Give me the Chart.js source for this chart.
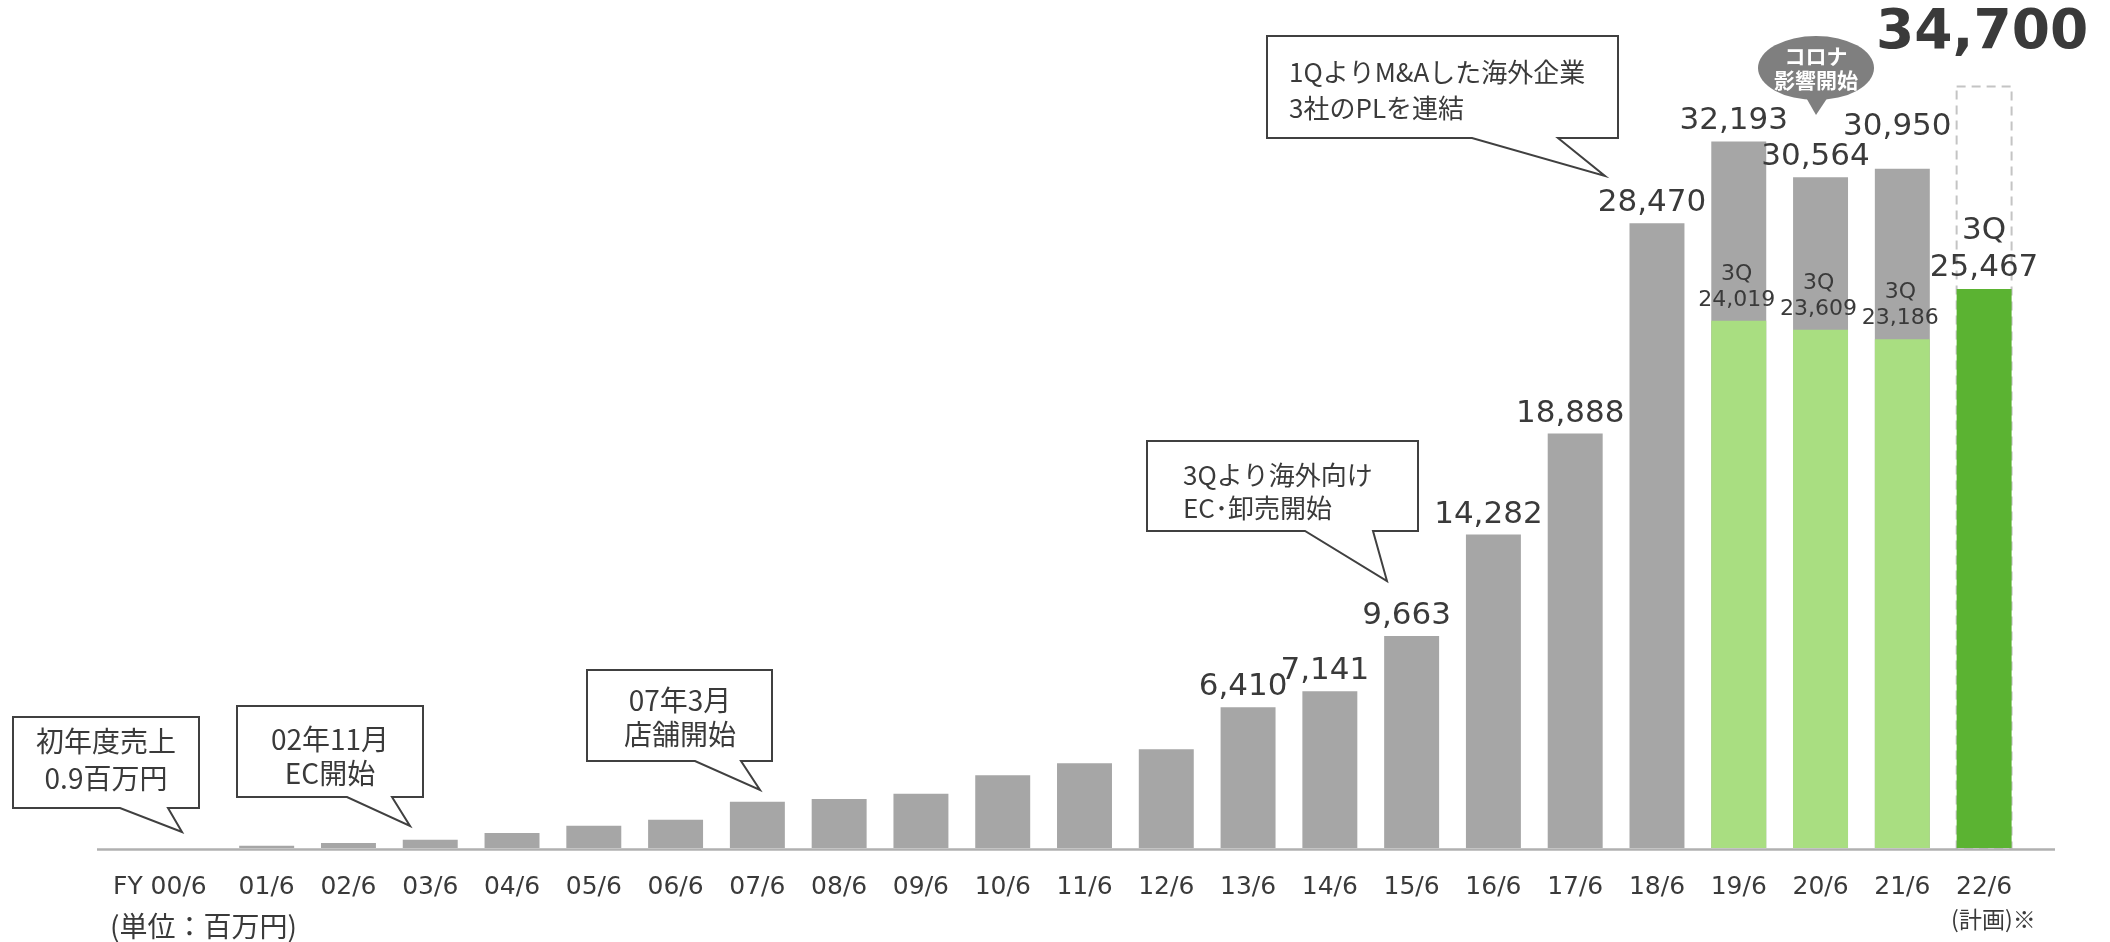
<!DOCTYPE html>
<html lang="ja">
<head>
<meta charset="utf-8">
<title>売上高推移</title>
<script src="https://cdn.jsdelivr.net/npm/chart.js@4.4.1/dist/chart.umd.min.js"></script>
<style>
  html, body { margin: 0; padding: 0; background: #fff; }
  #wrap { width: 2110px; height: 942px; }
</style>
</head>
<body>
<div id="wrap"><canvas id="sales" width="2110" height="942"></canvas></div>
<script>
// 売上高（百万円）
const fiscalYears = ['FY 00/6', '01/6', '02/6', '03/6', '04/6', '05/6', '06/6', '07/6', '08/6', '09/6', '10/6', '11/6',
  '12/6', '13/6', '14/6', '15/6', '16/6', '17/6', '18/6', '19/6', '20/6', '21/6', '22/6'];
const annualSales = [0.9, 105, 227, 377, 682, 1014, 1286, 2105, 2227, 2468, 3318, 3864,
  4500, 6410, 7141, 9663, 14282, 18888, 28470, 32193, 30564, 30950, null];
const q3Sales = [null, null, null, null, null, null, null, null, null, null, null, null,
  null, null, null, null, null, null, null, 24019, 23609, 23186, 25467];
const planSales = [null, null, null, null, null, null, null, null, null, null, null, null,
  null, null, null, null, null, null, null, null, null, null, 34700];
const firstLabelled = 13;   // 13/6 以降は数値を表示
const currentYear = 22;     // 22/6 は進行期

const GRAY = '#a6a6a6';
const GREEN_LIGHT = '#a9de81';
const GREEN = '#5bb332';
const TEXT = '#3a3a3a';
const JP = '"Noto Sans CJK JP", "Noto Sans", sans-serif';
const NUM = '"DejaVu Sans", Verdana, sans-serif';

const fmt = v => v.toLocaleString('en-US');

// 吹き出し
const callouts = [
  { box: [13, 717, 199, 808], tail: [120, 168, 182, 832], lines: ['初年度売上', '0.9百万円'], x: 106, ys: [741, 778], align: 'center', size: 28 },
  { box: [237, 706, 423, 797], tail: [347, 392, 410, 826], lines: ['02年11月', 'EC開始'], x: 330, ys: [739, 773], align: 'center', size: 28 },
  { box: [587, 670, 772, 761], tail: [695, 741, 760, 790], lines: ['07年3月', '店舗開始'], x: 680, ys: [700, 734], align: 'center', size: 28 },
  { box: [1147, 441, 1418, 531], tail: [1305, 1373, 1387, 581], lines: ['3Qより海外向け', 'EC･卸売開始'], x: 1183, ys: [475, 508], align: 'left', size: 26 },
  { box: [1267, 36, 1618, 138], tail: [1472, 1558, 1605, 176], lines: ['1QよりM&Aした海外企業', '3社のPLを連結'], x: 1289, ys: [72, 108], align: 'left', size: 26 }
];

function drawCallout(ctx, c) {
  const [l, t, r, b] = c.box;
  const [bl, br, tx, ty] = c.tail;
  ctx.save();
  ctx.beginPath();
  ctx.moveTo(l, t);
  ctx.lineTo(r, t);
  ctx.lineTo(r, b);
  ctx.lineTo(br, b);
  ctx.lineTo(tx, ty);
  ctx.lineTo(bl, b);
  ctx.lineTo(l, b);
  ctx.closePath();
  ctx.fillStyle = '#fff';
  ctx.fill();
  ctx.lineWidth = 2;
  ctx.lineJoin = 'miter';
  ctx.strokeStyle = '#404040';
  ctx.stroke();
  ctx.fillStyle = TEXT;
  ctx.font = c.size + 'px ' + JP;
  ctx.textAlign = c.align;
  ctx.textBaseline = 'middle';
  c.lines.forEach((s, i) => ctx.fillText(s, c.x, c.ys[i]));
  ctx.restore();
}

// 「コロナ影響開始」の丸い吹き出し
function drawCovidBubble(ctx) {
  ctx.save();
  ctx.fillStyle = '#7f7f7f';
  ctx.beginPath();
  ctx.ellipse(1816, 68, 58, 32, 0, 0, Math.PI * 2);
  ctx.fill();
  ctx.beginPath();
  ctx.moveTo(1804, 94);
  ctx.lineTo(1830, 94);
  ctx.lineTo(1816, 115);
  ctx.closePath();
  ctx.fill();
  ctx.fillStyle = '#fff';
  ctx.font = 'bold 21px ' + JP;
  ctx.textAlign = 'center';
  ctx.textBaseline = 'middle';
  ctx.fillText('コロナ', 1816, 56);
  ctx.fillText('影響開始', 1816, 80);
  ctx.restore();
}

const overlayPlugin = {
  id: 'overlay',
  beforeDatasetsDraw(chart) {
    const ctx = chart.ctx;
    // 計画値の点線枠
    const plan = chart.getDatasetMeta(2);
    plan.data.forEach((bar, i) => {
      if (planSales[i] == null) return;
      const half = bar.width / 2;
      ctx.save();
      ctx.strokeStyle = '#c4c4c4';
      ctx.lineWidth = 2;
      ctx.setLineDash([9, 6]);
      ctx.strokeRect(bar.x - half, bar.y, bar.width, bar.base - bar.y);
      ctx.restore();
    });
  },
  afterDatasetsDraw(chart) {
    const ctx = chart.ctx;
    const area = chart.chartArea;

    // 横軸の線
    ctx.save();
    ctx.strokeStyle = '#b0b0b0';
    ctx.lineWidth = 2.5;
    ctx.beginPath();
    ctx.moveTo(97, area.bottom + 1.5);
    ctx.lineTo(2055, area.bottom + 1.5);
    ctx.stroke();
    ctx.restore();

    ctx.save();
    ctx.textAlign = 'center';
    ctx.textBaseline = 'middle';
    ctx.fillStyle = TEXT;

    // 通期売上の数値
    const total = chart.getDatasetMeta(1);
    ctx.font = '31px ' + NUM;
    total.data.forEach((bar, i) => {
      if (i < firstLabelled || annualSales[i] == null) return;
      const lift = i === 21 ? 42 : 20;
      ctx.fillText(fmt(annualSales[i]), bar.x - 5, bar.y - lift);
    });

    // 3Q累計の数値
    const q3 = chart.getDatasetMeta(0);
    q3.data.forEach((bar, i) => {
      if (q3Sales[i] == null) return;
      if (i === currentYear) {
        ctx.font = '31px ' + NUM;
        ctx.fillText('3Q', bar.x, bar.y - 58);
        ctx.fillText(fmt(q3Sales[i]), bar.x, bar.y - 21);
      } else {
        ctx.font = '22px ' + NUM;
        ctx.fillText('3Q', bar.x - 2, bar.y - 47);
        ctx.fillText(fmt(q3Sales[i]), bar.x - 2, bar.y - 21);
      }
    });

    // 計画値
    const plan = chart.getDatasetMeta(2);
    ctx.font = 'bold 55px ' + NUM;
    plan.data.forEach((bar, i) => {
      if (planSales[i] == null) return;
      ctx.fillText(fmt(planSales[i]), bar.x - 2, bar.y - 53);
    });
    ctx.restore();
  },
  afterDraw(chart) {
    const ctx = chart.ctx;
    callouts.forEach(c => drawCallout(ctx, c));
    drawCovidBubble(ctx);

    const x = chart.scales.x;
    ctx.save();
    ctx.fillStyle = TEXT;
    ctx.textBaseline = 'middle';
    ctx.textAlign = 'left';
    ctx.font = '28px ' + JP;
    ctx.fillText('(単位：百万円)', 110, 926);
    ctx.font = '23px ' + JP;
    ctx.fillText('(計画)※', x.getPixelForValue(currentYear) - 33, 919);
    ctx.restore();
  }
};

const ctx = document.getElementById('sales').getContext('2d');
new Chart(ctx, {
  type: 'bar',
  data: {
    labels: fiscalYears,
    datasets: [
      {
        label: '3Q累計',
        data: q3Sales,
        backgroundColor: q3Sales.map((v, i) => i === currentYear ? GREEN : GREEN_LIGHT),
        order: 0
      },
      {
        label: '通期',
        data: annualSales,
        backgroundColor: GRAY,
        order: 1
      },
      {
        label: '計画',
        data: planSales,
        backgroundColor: 'rgba(0,0,0,0)',
        order: 2
      }
    ]
  },
  options: {
    responsive: false,
    animation: false,
    devicePixelRatio: 1,
    layout: { padding: { left: 144, right: 85, top: 14, bottom: 0 } },
    datasets: {
      bar: { grouped: false, barPercentage: 0.672, categoryPercentage: 1, borderWidth: 0 }
    },
    plugins: {
      legend: { display: false },
      tooltip: { enabled: false }
    },
    scales: {
      x: {
        grid: { display: false, drawTicks: false },
        border: { display: false },
        ticks: {
          color: TEXT,
          font: { family: NUM, size: 25 },
          padding: 24,
          maxRotation: 0,
          autoSkip: false,
          // 先頭の「FY」付きラベルは左に寄せる
          callback(value, index) {
            const s = this.getLabelForValue(value);
            return index === 0 ? s + '\u2002\u2002\u2002\u2002' : s;
          }
        },
        afterFit(scale) { scale.height = 94; }
      },
      y: {
        display: false,
        min: 0,
        max: 38000
      }
    }
  },
  plugins: [overlayPlugin]
});
</script>
</body>
</html>
